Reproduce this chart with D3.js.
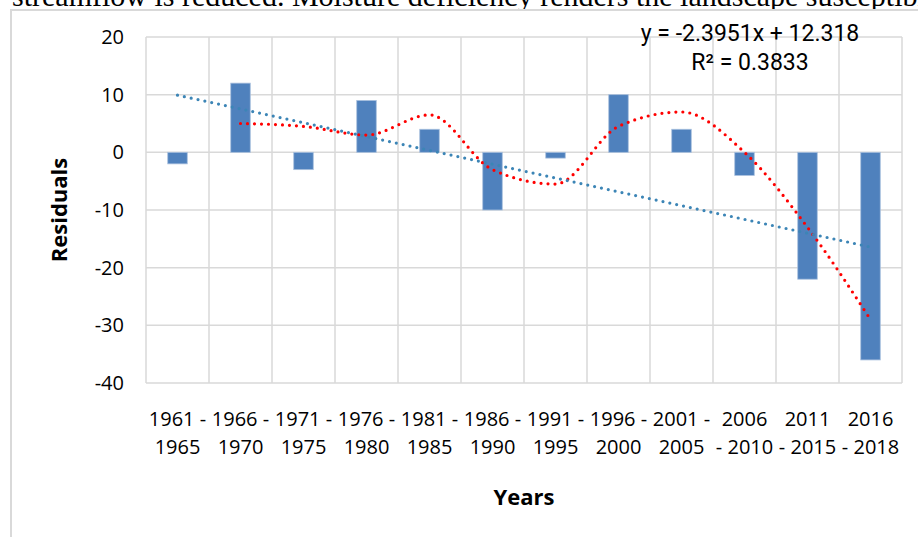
<!DOCTYPE html>
<html>
<head>
<meta charset="utf-8">
<script src="https://cdn.jsdelivr.net/npm/d3@7/dist/d3.min.js"></script>
<style>
  body { margin: 0; background: #fff; }
  svg { display: block; }
</style>
</head>
<body>
<div id="container"></div>
<script>
/* DATA */
const periods = ["1961 - 1965", "1966 - 1970", "1971 - 1975", "1976 - 1980", "1981 - 1985", "1986 - 1990",
  "1991 - 1995", "1996 - 2000", "2001 - 2005", "2006 - 2010", "2011 - 2015", "2016 - 2018"];
// how the tick labels wrap in the picture
const periodLines = [["1961 -", "1965"], ["1966 -", "1970"], ["1971 -", "1975"], ["1976 -", "1980"],
  ["1981 -", "1985"], ["1986 -", "1990"], ["1991 -", "1995"], ["1996 -", "2000"], ["2001 -", "2005"],
  ["2006", "- 2010"], ["2011", "- 2015"], ["2016", "- 2018"]];
const residuals = [-2, 12, -3, 9, 4, -10, -1, 10, 4, -4, -22, -36];
// 2 period moving average (red dotted), starts at the 2nd period
const movingAvg = [null, 5, 4.5, 3, 6.5, -3, -5.5, 4.5, 7, 0, -13, -29];
// linear trend (blue dotted), value at first and last period
const trendEnds = [9.92, -16.42];
const yTicks = [20, 10, 0, -10, -20, -30, -40];
const equationLines = ["y = -2.3951x + 12.318", "R\u00B2 = 0.3833"];
const pageText = "streamflow is reduced. Moisture deficiency renders the landscape susceptible";

/* CONSTANTS */
const width = 918, height = 537;
const plot = { left: 146, right: 902, top: 37, bottom: 383 };
const gridColor = "#d9d9d9";
const font = "'Open Sans', 'Noto Sans', sans-serif";

const svg = d3.select("#container").append("svg")
  .attr("width", width)
  .attr("height", height);

// bit of the document text showing above the chart
svg.append("text")
  .attr("x", 12)
  .attr("y", 6)
  .attr("font-family", "'Liberation Serif', 'Times New Roman', serif")
  .attr("font-size", 30)
  .attr("fill", "#000")
  .text(pageText);

// chart area frame
svg.append("rect")
  .attr("x", 11).attr("y", 10)
  .attr("width", 1000).attr("height", 1000)
  .attr("fill", "#fff")
  .attr("stroke", gridColor)
  .attr("stroke-width", 2);

/* SCALES */
const xScale = d3.scaleBand()
  .domain(periods)
  .range([plot.left, plot.right]);

const yScale = d3.scaleLinear()
  .domain([-40, 20])
  .range([plot.bottom, plot.top]);

const bw = xScale.bandwidth();
const center = d => xScale(d) + bw / 2;

/* GRID */
const grid = svg.append("g");
grid.selectAll("line.h")
  .data(yTicks)
  .join("line")
  .attr("class", "h")
  .attr("x1", plot.left).attr("x2", plot.right)
  .attr("y1", d => yScale(d)).attr("y2", d => yScale(d))
  .attr("stroke", gridColor).attr("stroke-width", 1.5);

const bounds = periods.map(p => xScale(p)).concat([xScale.range()[1]]);
grid.selectAll("line.v")
  .data(bounds)
  .join("line")
  .attr("class", "v")
  .attr("x1", d => d).attr("x2", d => d)
  .attr("y1", plot.top).attr("y2", plot.bottom)
  .attr("stroke", gridColor).attr("stroke-width", 1.5);

/* AXES */
const yAxis = d3.axisLeft(yScale)
  .tickValues(yTicks)
  .tickFormat(d => String(d))   // plain hyphen like the original
  .tickSize(0)
  .tickPadding(22);
svg.append("g")
  .attr("transform", `translate(${plot.left},0)`)
  .call(yAxis)
  .call(g => g.select(".domain").remove())
  .selectAll("text")
  .attr("font-family", font)
  .attr("font-size", 20)
  .attr("fill", "#000");

const xAxis = d3.axisBottom(xScale).tickSize(0).tickFormat("");
const xg = svg.append("g")
  .attr("transform", `translate(0,${plot.bottom})`)
  .call(xAxis)
  .call(g => g.select(".domain").remove());

xg.selectAll(".tick text")
  .attr("font-family", font)
  .attr("font-size", 20)
  .attr("fill", "#000")
  .attr("y", 0)
  .attr("dy", null)
  .each(function (d, i) {
    d3.select(this).selectAll("tspan")
      .data(periodLines[i])
      .join("tspan")
      .attr("x", 0)
      .attr("y", (l, j) => 43 + j * 28)
      .text(l => l);
  });

/* BARS */
svg.append("g")
  .selectAll("rect")
  .data(residuals)
  .join("rect")
  .attr("x", (d, i) => center(periods[i]) - bw * 0.155)
  .attr("width", bw * 0.31)
  .attr("y", d => yScale(Math.max(0, d)))
  .attr("height", d => Math.abs(yScale(d) - yScale(0)))
  .attr("fill", "#4f81bd")
  .attr("stroke", "#a9c0de")
  .attr("stroke-width", 0.8);

/* LINES */
const maLine = d3.line()
  .defined(d => d != null)
  .x((d, i) => center(periods[i]))
  .y(d => yScale(d))
  .curve(d3.curveMonotoneX);

svg.append("path")
  .datum(movingAvg)
  .attr("d", maLine)
  .attr("fill", "none")
  .attr("stroke", "#ff0000")
  .attr("stroke-width", 3.2)
  .attr("stroke-linecap", "round")
  .attr("stroke-dasharray", "0 7");

const trendPts = [[periods[0], trendEnds[0]], [periods[periods.length - 1], trendEnds[1]]];
svg.append("path")
  .datum(trendPts)
  .attr("d", d3.line().x(d => center(d[0])).y(d => yScale(d[1])))
  .attr("fill", "none")
  .attr("stroke", "#3c85b6")
  .attr("stroke-width", 3.2)
  .attr("stroke-linecap", "round")
  .attr("stroke-dasharray", "0 7");

/* LABELS */
svg.append("g")
  .selectAll("text")
  .data(equationLines)
  .join("text")
  .attr("x", 750)
  .attr("y", (d, i) => 41 + i * 29)
  .attr("text-anchor", "middle")
  .attr("font-family", "Roboto, sans-serif")
  .attr("font-size", 23)
  .attr("fill", "#000")
  .text(d => d);

svg.append("text")
  .attr("transform", `translate(67,${(plot.top + plot.bottom) / 2}) rotate(-90)`)
  .attr("text-anchor", "middle")
  .attr("font-family", font)
  .attr("font-weight", "bold")
  .attr("font-size", 22)
  .attr("fill", "#000")
  .text("Residuals");

svg.append("text")
  .attr("x", (plot.left + plot.right) / 2)
  .attr("y", 505)
  .attr("text-anchor", "middle")
  .attr("font-family", font)
  .attr("font-weight", "bold")
  .attr("font-size", 22)
  .attr("fill", "#000")
  .text("Years");
</script>
</body>
</html>
